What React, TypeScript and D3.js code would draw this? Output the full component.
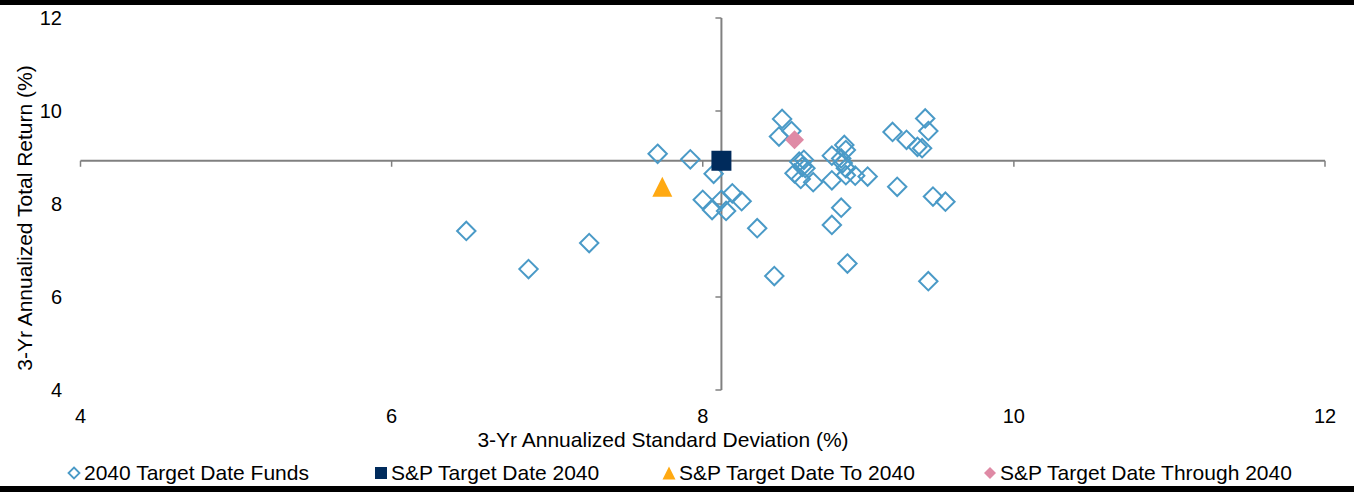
import * as d3 from "d3";

// 2040 Target Date Funds: 3-yr std dev (%) and 3-yr return (%)
const fundStdDev = [
  6.48, 6.88, 7.27, 7.71, 7.92, 8.07, 8.0, 8.06, 8.12, 8.15, 8.19, 8.25, 8.35, 8.46,
  8.51, 8.49, 8.57, 8.62, 8.65, 8.64, 8.66, 8.59, 8.63, 8.71, 8.83, 8.91, 8.92, 8.89,
  8.9, 8.92, 8.83, 8.92, 8.98, 9.06, 8.89, 8.83, 8.93, 9.22, 9.43, 9.45, 9.31, 9.38,
  9.41, 9.25, 9.48, 9.56, 9.45,
];
const fundReturn = [
  7.42, 6.6, 7.16, 9.08, 8.96, 8.65, 8.09, 7.87, 8.09, 7.85, 8.23, 8.06, 7.48, 6.45,
  9.83, 9.45, 9.57, 8.91, 8.95, 8.8, 8.77, 8.66, 8.54, 8.47, 9.04, 9.27, 9.16, 8.98,
  8.88, 8.77, 8.51, 8.62, 8.61, 8.59, 7.92, 7.55, 6.72, 9.55, 9.84, 9.57, 9.38, 9.23,
  9.2, 8.37, 8.16, 8.05, 6.34,
];

// benchmarks [std dev, return]
const spTargetDate2040 = [8.12, 8.93];
const spTargetDateTo2040 = [7.74, 8.37];
const spTargetDateThrough2040 = [8.59, 9.38];

const xTicks = [4, 6, 8, 10, 12];
const yTicks = [4, 6, 8, 10, 12];

const legendLabels = [
  "2040 Target Date Funds",
  "S&P Target Date 2040",
  "S&P Target Date To 2040",
  "S&P Target Date Through 2040",
];

const W = 1354;
const H = 492;
const FONT = "Arial, 'Liberation Sans', sans-serif";
const BLUE = "#4a9ac7";
const NAVY = "#002b5c";
const ORANGE = "#ffa912";
const PINK = "#df8aa5";
const AXIS = "#808080";

const diamond = (h: number) => `M0,${-h}L${h},0L0,${h}L${-h},0Z`;
const square = (h: number) => `M${-h},${-h}H${h}V${h}H${-h}Z`;
const triangle = (h: number) => `M0,${-h}L${h},${h}L${-h},${h}Z`;

export default function App() {
  const x = d3.scaleLinear().domain([4, 12]).range([80.5, 1325]);
  const y = d3.scaleLinear().domain([4, 12]).range([390, 18]);

  const axX = x(spTargetDate2040[0]);
  const axY = y(spTargetDate2040[1]);

  const legendX = [74, 381, 669, 990];
  const legendIcons = [
    <path d={diamond(5.5)} fill="none" stroke={BLUE} strokeWidth={1.8} />,
    <path d={square(6)} fill={NAVY} />,
    <path d={triangle(6.5)} fill={ORANGE} />,
    <path d={diamond(6)} fill={PINK} />,
  ];

  return (
    <svg
      width={W}
      height={H}
      style={{ position: "absolute", left: 0, top: 0, background: "#fff" }}
      fontFamily={FONT}
    >
      <rect x={0} y={0} width={W} height={5} fill="#000" />
      <rect x={0} y={486} width={W} height={6} fill="#000" />

      {/* axes crossing at the S&P Target Date 2040 point */}
      <line x1={x(4)} x2={x(12)} y1={axY} y2={axY} stroke={AXIS} strokeWidth={2} />
      <line x1={axX} x2={axX} y1={y(12)} y2={y(4)} stroke={AXIS} strokeWidth={2} />
      {xTicks.map((t) => (
        <line key={"xt" + t} x1={x(t)} x2={x(t)} y1={axY} y2={axY + 6} stroke={AXIS} strokeWidth={1.5} />
      ))}
      {yTicks.map((t) => (
        <line key={"yt" + t} x1={axX - 6} x2={axX} y1={y(t)} y2={y(t)} stroke={AXIS} strokeWidth={1.5} />
      ))}

      {xTicks.map((t) => (
        <text key={"xl" + t} x={x(t)} y={423} textAnchor="middle" fontSize={20} fill="#000">
          {t}
        </text>
      ))}
      {yTicks.map((t) => (
        <text
          key={"yl" + t}
          x={62}
          y={y(t)}
          dy="0.35em"
          textAnchor="end"
          fontSize={20}
          fill="#000"
        >
          {t}
        </text>
      ))}

      <text x={663} y={447} textAnchor="middle" fontSize={21} fill="#000">
        3-Yr Annualized Standard Deviation (%)
      </text>
      <text
        transform={`translate(32,218) rotate(-90)`}
        textAnchor="middle"
        fontSize={21}
        fill="#000"
      >
        3-Yr Annualized Total Return (%)
      </text>

      {fundStdDev.map((sd, i) => (
        <path
          key={"f" + i}
          d={diamond(9.2)}
          transform={`translate(${x(sd)},${y(fundReturn[i])})`}
          fill="none"
          stroke={BLUE}
          strokeWidth={2}
        />
      ))}
      <path
        d={square(10)}
        transform={`translate(${x(spTargetDate2040[0])},${y(spTargetDate2040[1])})`}
        fill={NAVY}
      />
      <path
        d={triangle(10)}
        transform={`translate(${x(spTargetDateTo2040[0])},${y(spTargetDateTo2040[1])})`}
        fill={ORANGE}
      />
      <path
        d={diamond(9.5)}
        transform={`translate(${x(spTargetDateThrough2040[0])},${y(spTargetDateThrough2040[1])})`}
        fill={PINK}
      />

      {legendLabels.map((label, i) => (
        <g key={"lg" + i}>
          <g transform={`translate(${legendX[i]},473)`}>{legendIcons[i]}</g>
          <text x={legendX[i] + 10} y={480} fontSize={21} fill="#000">
            {label}
          </text>
        </g>
      ))}
    </svg>
  );
}
